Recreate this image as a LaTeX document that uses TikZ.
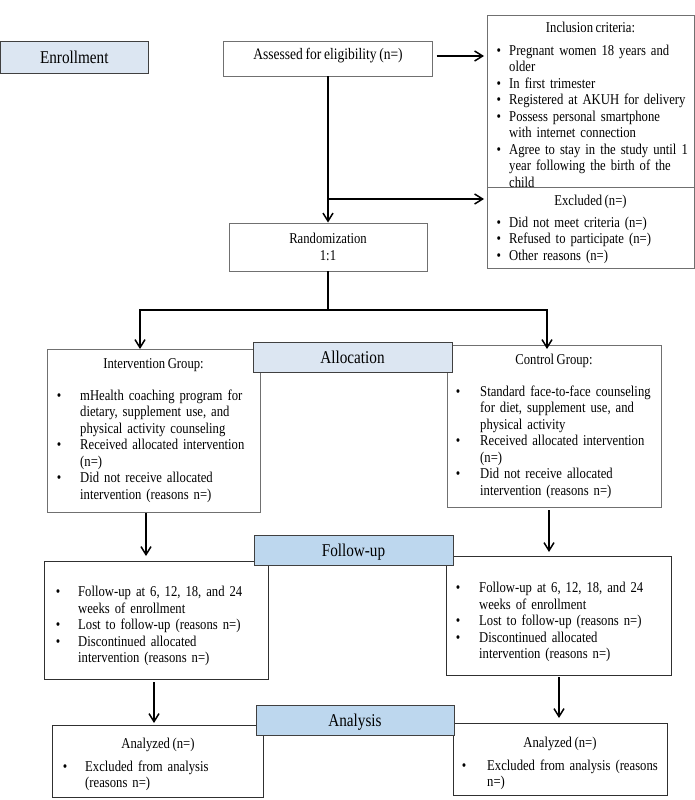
\documentclass[tikz,border=0pt]{standalone}
\usepackage{fontspec}
\setmainfont{Liberation Serif}[FakeStretch=0.845, WordSpace=0.8]
\usetikzlibrary{arrows.meta}
\definecolor{lblA}{HTML}{DCE6F2}
\definecolor{lblB}{HTML}{BDD7EE}
\definecolor{edgeA}{HTML}{707070}
\definecolor{edgeB}{HTML}{303030}
\definecolor{edgeL}{HTML}{404040}
\newcommand\fsn{\fontsize{15}{16.5}\selectfont}
\newcommand\fsa{\fontsize{16}{16.5}\selectfont}
\newcommand\fsl{\fontsize{18}{20}\selectfont}
\newcommand\bitem[2]{\par\noindent\hangindent=#1\hangafter=1\strut\makebox[#1][l]{\textbullet}#2\par}
\tikzset{
  boxA/.style={draw=edgeA, line width=0.8pt, inner sep=0pt, outer sep=0pt, font=\fsn},
  boxB/.style={draw=edgeB, line width=0.9pt, inner sep=0pt, outer sep=0pt, font=\fsn},
  labA/.style={draw=edgeL, fill=lblA, line width=1pt, inner sep=0pt, outer sep=0pt, font=\fsl, text height=12pt, text depth=0pt},
  labB/.style={labA, fill=lblB},
  lst/.style={inner sep=0pt, anchor=north west, align=left, text width=215pt, font=\fsn},
  hd/.style={inner sep=0pt, anchor=base, font=\fsn},
  conn/.style={line width=1.5pt, black},
  arr/.style={conn, -{Straight Barb[length=8pt,width=10pt]}}
}
\begin{document}
\begin{tikzpicture}[x=1pt,y=-1pt]
\useasboundingbox (0,0) rectangle (695,800);

% ---- boxes ----
\node[boxA, font=\fsa, anchor=base, text height=18.3pt, text depth=16.7pt, minimum width=209pt] (assess) at (328,59.3) {Assessed for eligibility (n=)};
\node[boxA, anchor=north west, minimum width=207pt, minimum height=172pt] (incl) at (487,15) {};
\node[boxA, anchor=north west, minimum width=207pt, minimum height=81pt] (excl) at (487,187) {};
\node[boxA, align=center, minimum width=198pt, minimum height=48pt] (rand) at (328,247) {Randomization\\1:1};
\node[boxA, anchor=north west, minimum width=213pt, minimum height=163pt] (interv) at (47,349) {};
\node[boxA, anchor=north west, minimum width=214pt, minimum height=162pt] (ctrl) at (447,345) {};
\node[boxB, anchor=north west, minimum width=224pt, minimum height=118pt] (fupl) at (44,561) {};
\node[boxB, anchor=north west, minimum width=225pt, minimum height=119pt] (fupr) at (446,556) {};
\node[boxB, anchor=north west, minimum width=211pt, minimum height=72pt] (anl) at (52,725) {};
\node[boxB, anchor=north west, minimum width=214pt, minimum height=72pt] (anr) at (453,723) {};

% ---- texts ----
\node[hd] (inclhd) at (590.5,33) {Inclusion criteria:};
\node[lst] (incllst) at (496.5,38.4) {%
\bitem{12.5pt}{Pregnant women 18 years and\newline older}%
\bitem{12.5pt}{In first trimester}%
\bitem{12.5pt}{Registered at AKUH for delivery}%
\bitem{12.5pt}{Possess personal smartphone\newline with internet connection}%
\bitem{12.5pt}{Agree to stay in the study until 1\newline year following the birth of the\newline child}};
\node[hd] (exclhd) at (590.5,205) {Excluded (n=)};
\node[lst] (excllst) at (496.5,210.4) {%
\bitem{12.5pt}{Did not meet criteria (n=)}%
\bitem{12.5pt}{Refused to participate (n=)}%
\bitem{12.5pt}{Other reasons (n=)}};

\node[hd] (intervhd) at (153.5,368) {Intervention Group:};
\node[lst] (intervlst) at (56.7,383.4) {%
\bitem{23.3pt}{mHealth coaching program for\newline dietary, supplement use, and\newline physical activity counseling}%
\bitem{23.3pt}{Received allocated intervention\newline (n=)}%
\bitem{23.3pt}{Did not receive allocated\newline intervention (reasons n=)}};

\node[hd] (ctrlhd) at (554,364) {Control Group:};
\node[lst] (ctrllst) at (455.7,379.4) {%
\bitem{24.3pt}{Standard face-to-face counseling\newline for diet, supplement use, and\newline physical activity}%
\bitem{24.3pt}{Received allocated intervention\newline (n=)}%
\bitem{24.3pt}{Did not receive allocated\newline intervention (reasons n=)}};

\node[lst] (fupllst) at (55.7,579.9) {%
\bitem{22.3pt}{Follow-up at 6, 12, 18, and 24\newline weeks of enrollment}%
\bitem{22.3pt}{Lost to follow-up (reasons n=)}%
\bitem{22.3pt}{Discontinued allocated\newline intervention (reasons n=)}};
\node[lst] (fuprlst) at (455.7,575.9) {%
\bitem{23.3pt}{Follow-up at 6, 12, 18, and 24\newline weeks of enrollment}%
\bitem{23.3pt}{Lost to follow-up (reasons n=)}%
\bitem{23.3pt}{Discontinued allocated\newline intervention (reasons n=)}};

\node[hd] (anlhd) at (158,748) {Analyzed (n=)};
\node[lst] (anllst) at (62.7,754.4) {%
\bitem{22.3pt}{Excluded from analysis\newline (reasons n=)}};
\node[hd] (anrhd) at (560,747) {Analyzed (n=)};
\node[lst] (anrlst) at (461.7,753.4) {%
\bitem{25.3pt}{Excluded from analysis (reasons\newline n=)}};

% ---- connectors ----
\draw[arr, shorten <=4pt, shorten >=3pt] ([yshift=2.5pt]assess.east) -- ([yshift=2.5pt]assess.east -| incl.west);
\draw[arr, shorten >=0.5pt] (assess.south) -- (rand.north);
\coordinate (br) at (328,199);
\draw[arr, shorten >=3pt] (br) -- (br -| excl.west);

\coordinate (sl) at (140,310);
\coordinate (sr) at (547,310);
\coordinate (sm) at (rand.south |- sl);
\draw[conn] (rand.south) -- (sm);
\draw[arr] (sm) -- (sl) -- (sl |- interv.north);
\draw[arr] (sm) -- (sr) -- ([yshift=-4pt]sr |- ctrl.north);

\coordinate (xa) at (146,0);
\coordinate (xb) at (549,0);
\coordinate (xc) at (154,0);
\coordinate (xd) at (559,0);
\draw[arr, shorten <=1pt, shorten >=5pt] (interv.south -| xa) -- (fupl.north -| xa);
\draw[arr, shorten <=3pt, shorten >=4pt] (ctrl.south -| xb) -- (fupr.north -| xb);
\draw[arr, shorten <=3pt, shorten >=2pt] (fupl.south -| xc) -- (anl.north -| xc);
\draw[arr, shorten <=2pt, shorten >=5pt] (fupr.south -| xd) -- (anr.north -| xd);

% ---- stage labels (on top) ----
\node[labA, minimum width=147.5pt, minimum height=31pt] (enroll) at (74.3,57.5) {Enrollment};
\node[labA, minimum width=199pt, minimum height=30pt] (alloc) at (352.5,357) {Allocation};
\node[labB, minimum width=199pt, minimum height=30pt] (follow) at (353.5,550) {Follow-up};
\node[labB, minimum width=198pt, minimum height=30pt] (analysis) at (355,720) {Analysis};
\end{tikzpicture}
\end{document}
